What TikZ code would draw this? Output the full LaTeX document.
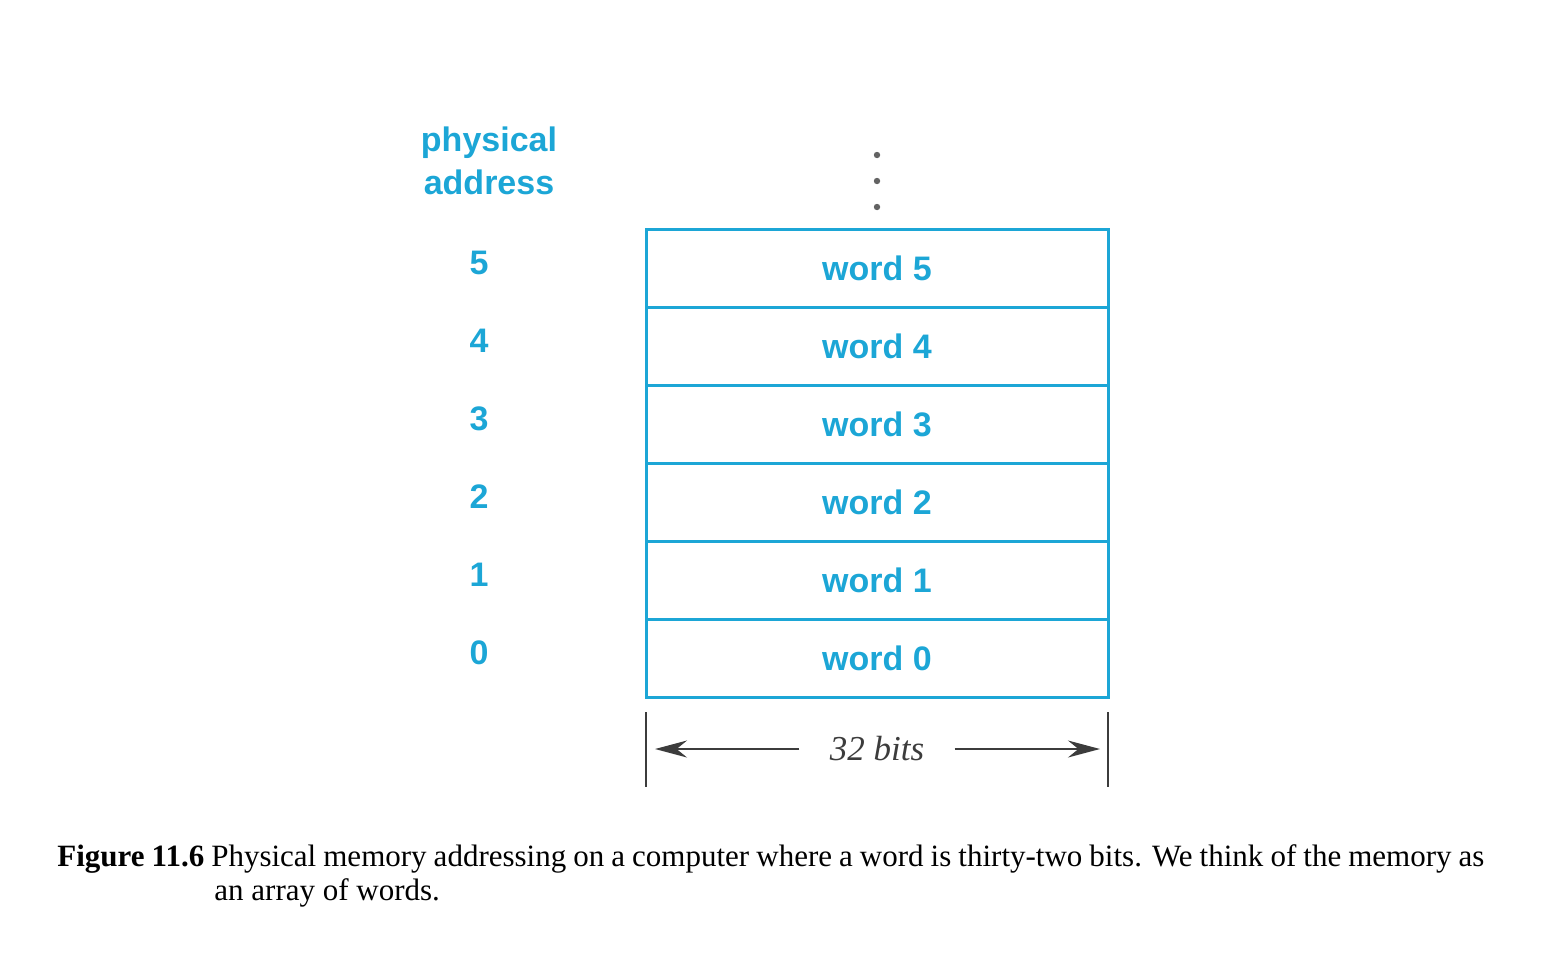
\documentclass[tikz,border=0pt]{standalone}
\usepackage{fontspec}
\setmainfont{Liberation Serif}
\setsansfont{Liberation Sans}
\usetikzlibrary {arrows.meta, positioning}

\definecolor{memblue}{RGB}{28,166,214}
\definecolor{dimgray}{RGB}{60,60,60}

\begin{document}
\begin{tikzpicture}[
    x=0.5pt, y=-0.5pt,
    >={Stealth[length=16pt,width=8.5pt]},
    on grid,
    word/.style={draw=memblue, line width=1.5pt, outer sep=0pt,
        minimum width=231pt, minimum height=39pt, inner sep=0pt,
        text=memblue, font=\sffamily\bfseries\fontsize{17}{20}\selectfont},
    addr/.style={text=memblue, font=\sffamily\bfseries\fontsize{17}{20}\selectfont},
    dim/.style={draw=dimgray, line width=0.8pt},
]
    \useasboundingbox (0,0) rectangle (1547,965);

    \node[word]                  (w5) at (877,268) {word 5};
    \node[word, below=39pt of w5] (w4) {word 4};
    \node[word, below=39pt of w4] (w3) {word 3};
    \node[word, below=39pt of w3] (w2) {word 2};
    \node[word, below=39pt of w2] (w1) {word 1};
    \node[word, below=39pt of w1] (w0) {word 0};

    \node[addr, yshift=2.5pt, left=199pt of w5] (a5) {5};
    \node[addr, yshift=2.5pt, left=199pt of w4] (a4) {4};
    \node[addr, yshift=2.5pt, left=199pt of w3] (a3) {3};
    \node[addr, yshift=2.5pt, left=199pt of w2] (a2) {2};
    \node[addr, yshift=2.5pt, left=199pt of w1] (a1) {1};
    \node[addr, yshift=2.5pt, left=199pt of w0] (a0) {0};

    \node[addr, align=center, font=\sffamily\bfseries\fontsize{17}{21.5}\selectfont]
        (head) at (489,161) {physical\\address};

    % more words above
    \foreach \y in {155,181,207}
        \fill[dimgray!80] (877,\y) circle (1.6pt);

    % width of a word
    \coordinate[below=7.5pt of w0.south west] (tl);
    \coordinate[below=45pt of w0.south west]  (bl);
    \coordinate[below=7.5pt of w0.south east] (tr);
    \coordinate[below=45pt of w0.south east]  (br);
    \node[text=dimgray, inner xsep=15pt,
          font=\itshape\fontsize{17.5}{20}\selectfont]
        (bits) at ([yshift=-26pt]w0.south) {32 bits};

    \draw[dim] (tl) -- (bl);
    \draw[dim] (tr) -- (br);
    \draw[dim, ->, shorten >=4.5pt] (bits.west) -- (bits.west -| tl);
    \draw[dim, ->, shorten >=4pt]   (bits.east) -- (bits.east -| tr);

    % caption
    \node[anchor=base west, inner sep=0pt, font=\fontsize{15.5}{19}\selectfont]
        (cap1) at (57,866) {\makebox[713.5pt][s]{\textbf{Figure 11.6} Physical memory addressing on a computer where a word is thirty-two bits. We think of the memory as}};
    \node[anchor=base west, inner sep=0pt, font=\fontsize{15.5}{19}\selectfont]
        (cap2) at (214,900) {an array of words.};
\end{tikzpicture}
\end{document}
